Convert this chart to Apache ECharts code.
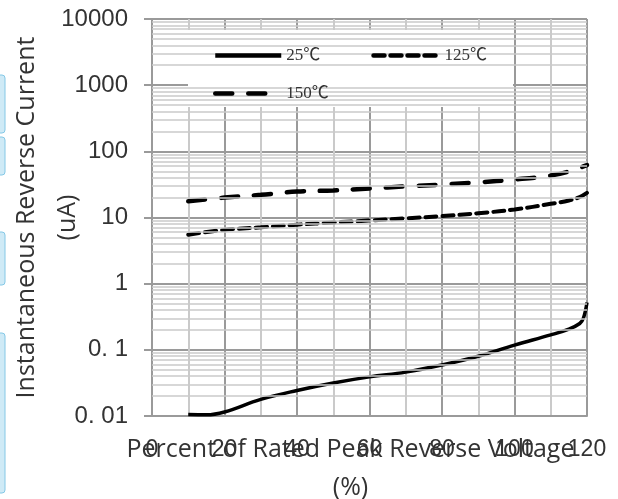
<!DOCTYPE html>
<html>
<head>
<meta charset="utf-8">
<script src="https://cdn.jsdelivr.net/npm/echarts@6/dist/echarts.min.js"></script>
<style>
html, body { margin: 0; padding: 0; background: #fff; }
#chart { width: 618px; height: 499px; }
</style>
</head>
<body>
<div id="chart"></div>
<script>
// percent of rated peak reverse voltage (x) vs reverse current in uA (y)
const pct25 = [10, 15, 20, 30, 40, 50, 60, 70, 80, 90, 100, 110, 115, 118, 119, 120];
const ir25 = [0.0105, 0.0104, 0.0115, 0.0178, 0.0243, 0.0315, 0.039, 0.046, 0.059, 0.080, 0.118, 0.168, 0.206, 0.25, 0.30, 0.52];

const pct125 = [10, 20, 30, 40, 50, 60, 70, 80, 90, 100, 110, 115, 118, 120];
const ir125 = [5.5, 6.5, 7.1, 7.8, 8.4, 9.0, 9.7, 10.5, 11.6, 13.2, 16.1, 18.1, 20.4, 23.6];

const pct150 = [10, 20, 30, 40, 50, 60, 70, 80, 90, 100, 110, 115, 120];
const ir150 = [17.6, 20, 22, 24.7, 25.6, 27.5, 29.5, 31.5, 34, 37.5, 43, 49.5, 62];

const seriesNames = ['25℃', '125℃', '150℃'];
const yTickLabels = {0.01: '0. 01', 0.1: '0. 1', 1: '1', 10: '10', 100: '100', 1000: '1000', 10000: '10000'};

// 2..9 lines inside every decade
const minorLevels = [];
for (let e = -2; e < 4; e++) {
  for (let m = 2; m <= 9; m++) minorLevels.push(+(m * Math.pow(10, e)).toPrecision(3));
}

const pairs = (xs, ys) => xs.map((x, i) => [x, ys[i]]);

const chart = echarts.init(document.getElementById('chart'));
const gridLine = '#9a9a9a';
const lightLine = '#cacaca';
const legendText = { fontFamily: 'Liberation Serif, Noto Sans CJK SC', fontSize: 17, color: '#333' };

chart.setOption({
  animation: false,
  grid: { left: 152, right: 31, top: 19, bottom: 83, outerBoundsMode: 'none' },
  xAxis: {
    type: 'value',
    min: 0,
    max: 120,
    interval: 20,
    name: 'Percent of Rated Peak Reverse Voltage\n(%)',
    nameLocation: 'middle',
    nameGap: 15,
    nameMoveOverlap: false,
    nameTextStyle: { fontFamily: 'Open Sans', fontSize: 25, color: '#333', lineHeight: 38, padding: [0, 38, 0, 0] },
    axisLine: { lineStyle: { color: gridLine, width: 2 } },
    axisTick: { show: false },
    axisLabel: { margin: 22, fontFamily: 'Liberation Sans', fontSize: 23, color: '#333' },
    splitLine: { lineStyle: { color: gridLine, width: 2 } },
    minorTick: { show: false, splitNumber: 2 },
    minorSplitLine: { show: true, lineStyle: { color: lightLine, width: 2 } }
  },
  yAxis: {
    type: 'log',
    logBase: 10,
    min: 0.01,
    max: 10000,
    splitNumber: 6,
    name: 'Instantaneous Reverse Current\n(uA)',
    nameLocation: 'middle',
    nameGap: 64,
    nameMoveOverlap: false,
    nameTextStyle: { fontFamily: 'Open Sans', fontSize: 25, color: '#333', lineHeight: 41 },
    axisLine: { show: true, lineStyle: { color: gridLine, width: 2 } },
    axisTick: { show: true, length: 8, lineStyle: { color: gridLine, width: 2 } },
    axisLabel: {
      margin: 24,
      fontFamily: 'Liberation Sans',
      fontSize: 24,
      color: '#333',
      formatter: v => yTickLabels[+v.toPrecision(3)] || ''
    },
    splitLine: { lineStyle: { color: gridLine, width: 2 } }
  },
  legend: [
    {
      data: [seriesNames[0], seriesNames[1]],
      left: 208, top: 42,
      itemWidth: 66, itemHeight: 14, itemGap: 51,
      z: 6,
      itemStyle: { opacity: 0 },
      lineStyle: { width: 4.5 },
      textStyle: legendText
    },
    {
      data: [seriesNames[2]],
      left: 208, top: 80,
      itemWidth: 66, itemHeight: 14,
      z: 6,
      itemStyle: { opacity: 0 },
      lineStyle: { width: 4.5 },
      textStyle: legendText
    }
  ],
  graphic: [
    // white legend panel
    { type: 'rect', z: 5, shape: { x: 188, y: 30, width: 325, height: 77 }, style: { fill: '#fff' } },
    // blue marks on the left edge of the screenshot
    { type: 'rect', z: 5, shape: { x: -4, y: 75, width: 9, height: 58, r: 3 }, style: { fill: '#cfeaf6', stroke: '#84c8e6' } },
    { type: 'rect', z: 5, shape: { x: -4, y: 137, width: 9, height: 38, r: 3 }, style: { fill: '#cfeaf6', stroke: '#84c8e6' } },
    { type: 'rect', z: 5, shape: { x: -4, y: 232, width: 9, height: 53, r: 3 }, style: { fill: '#cfeaf6', stroke: '#84c8e6' } },
    { type: 'rect', z: 5, shape: { x: -4, y: 333, width: 9, height: 160, r: 3 }, style: { fill: '#cfeaf6', stroke: '#84c8e6' } }
  ],
  series: [
    {
      name: 'minor-grid',
      type: 'line',
      data: [],
      silent: true,
      z: 1,
      markLine: {
        silent: true,
        symbol: 'none',
        label: { show: false },
        lineStyle: { color: lightLine, width: 1.5, type: 'solid' },
        data: minorLevels.map(v => ({ yAxis: v }))
      }
    },
    {
      name: seriesNames[0],
      type: 'line',
      data: pairs(pct25, ir25),
      symbol: 'none',
      smooth: 0.4,
      color: '#000',
      lineStyle: { color: '#000', width: 3.5 }
    },
    {
      name: seriesNames[1],
      type: 'line',
      data: pairs(pct125, ir125),
      symbol: 'none',
      smooth: 0.4,
      color: '#000',
      lineStyle: { color: '#000', width: 4, type: [11, 6], cap: 'round' }
    },
    {
      name: seriesNames[2],
      type: 'line',
      data: pairs(pct150, ir150),
      symbol: 'none',
      smooth: 0.4,
      color: '#000',
      lineStyle: { color: '#000', width: 4.5, type: [17, 16], cap: 'round' }
    }
  ]
});
</script>
</body>
</html>
